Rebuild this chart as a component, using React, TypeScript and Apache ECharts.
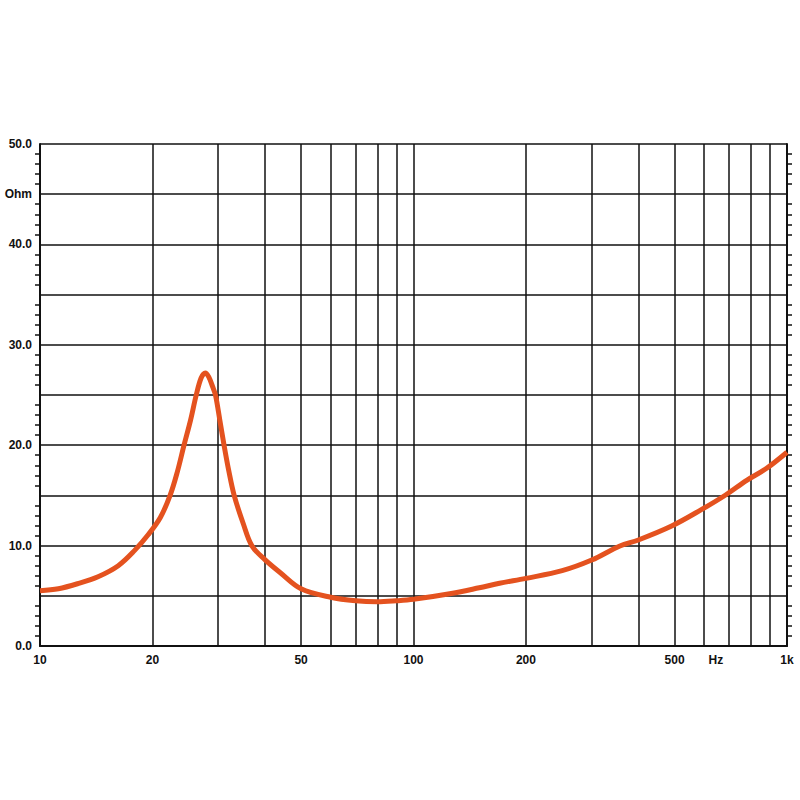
import React, { useEffect, useRef } from "react";
import * as echarts from "echarts";

const FREQ = [10, 11.2, 12.6, 14.3, 16.2, 17.9, 19.5, 21, 22.3, 23.3, 24.3, 25.3, 26.2, 27, 27.7, 28.3, 29, 29.5, 30.3, 31.1, 32, 33.1, 35, 36.9, 40, 44, 50, 60, 70, 80, 90, 100, 125, 150, 170, 200, 250, 300, 357, 400, 491, 591, 685, 780, 882, 1000];
const OHM = [5.5, 5.7, 6.2, 6.9, 8.0, 9.5, 11.1, 12.8, 15.0, 17.3, 20.0, 22.5, 25.0, 26.7, 27.2, 26.8, 25.8, 25.0, 22.5, 20.0, 17.5, 15.0, 12.2, 10.0, 8.6, 7.3, 5.7, 4.85, 4.5, 4.4, 4.5, 4.65, 5.2, 5.8, 6.25, 6.74, 7.5, 8.56, 9.96, 10.56, 11.95, 13.6, 15.04, 16.5, 17.7, 19.3];

const X_GRID = [20, 30, 40, 50, 60, 70, 80, 90, 200, 300, 400, 500, 600, 700, 800, 900];
const X_EXTRA_LABELS = [20, 50, 200, 500];
const HZ_POS = 645;
const Y_LABELED = [0, 10, 20, 30, 40, 50];
const Y_UNIT_AT = 45;

const FONT = "Liberation Sans";

export default function App() {
  const ref = useRef<HTMLDivElement>(null);
  useEffect(() => {
    if (!ref.current) return;
    const chart = echarts.init(ref.current, undefined, { renderer: "svg" });
    const labelStyle = { color: "#111", fontFamily: FONT, fontSize: 12, fontWeight: "bold" as const };
    const yAxisBase = {
      type: "value" as const,
      min: 0,
      max: 50,
      interval: 5,
      axisLine: { show: true, lineStyle: { color: "#111", width: 2 } },
      axisTick: { show: false },
      minorTick: { show: true, splitNumber: 5, length: 5, lineStyle: { color: "#111", width: 1.5 } },
    };
    chart.setOption({
      animation: false,
      backgroundColor: "#fff",
      grid: { left: 40, right: 13, top: 144, bottom: 154 },
      xAxis: {
        type: "log",
        logBase: 10,
        min: 10,
        max: 1000,
        axisLine: { show: true, onZero: false, lineStyle: { color: "#111", width: 2 } },
        axisTick: { show: false },
        splitLine: { show: true, lineStyle: { color: "#111", width: 1.5 } },
        axisLabel: {
          ...labelStyle,
          margin: 8,
          formatter: (v: number) => (v >= 1000 ? "1k" : String(v)),
        },
      },
      yAxis: [
        {
          ...yAxisBase,
          position: "left",
          splitLine: { show: true, lineStyle: { color: "#111", width: 1.5 } },
          axisLabel: {
            ...labelStyle,
            margin: 8,
            formatter: (v: number) =>
              Y_LABELED.includes(v) ? v.toFixed(1) : v === Y_UNIT_AT ? "Ohm" : "",
          },
        },
        {
          ...yAxisBase,
          position: "right",
          splitLine: { show: false },
          axisLabel: { show: false },
        },
      ],
      series: [
        {
          type: "line",
          data: [],
          z: 1,
          markLine: {
            silent: true,
            z: 1,
            symbol: ["none", "none"],
            lineStyle: { color: "#111", width: 1.5, type: "solid" },
            label: { show: false },
            emphasis: { disabled: true },
            data: [
              ...X_GRID.map((v) => ({
                xAxis: v,
                label: {
                  show: X_EXTRA_LABELS.includes(v),
                  position: "start",
                  distance: 8,
                  formatter: String(v),
                  ...labelStyle,
                },
              })),
              {
                xAxis: HZ_POS,
                lineStyle: { color: "rgba(0,0,0,0)", width: 1 },
                label: { show: true, position: "start", distance: 8, formatter: "Hz", ...labelStyle },
              },
            ],
          },
        },
        {
          type: "line",
          z: 10,
          data: FREQ.map((f, i) => [f, OHM[i]]),
          showSymbol: false,
          smooth: 0.35,
          lineStyle: { color: "#E4521F", width: 5 },
          itemStyle: { color: "#E4521F" },
        },
      ],
    });
    return () => chart.dispose();
  }, []);
  return <div ref={ref} style={{ position: "fixed", left: 0, top: 0, width: 800, height: 800 }} />;
}
